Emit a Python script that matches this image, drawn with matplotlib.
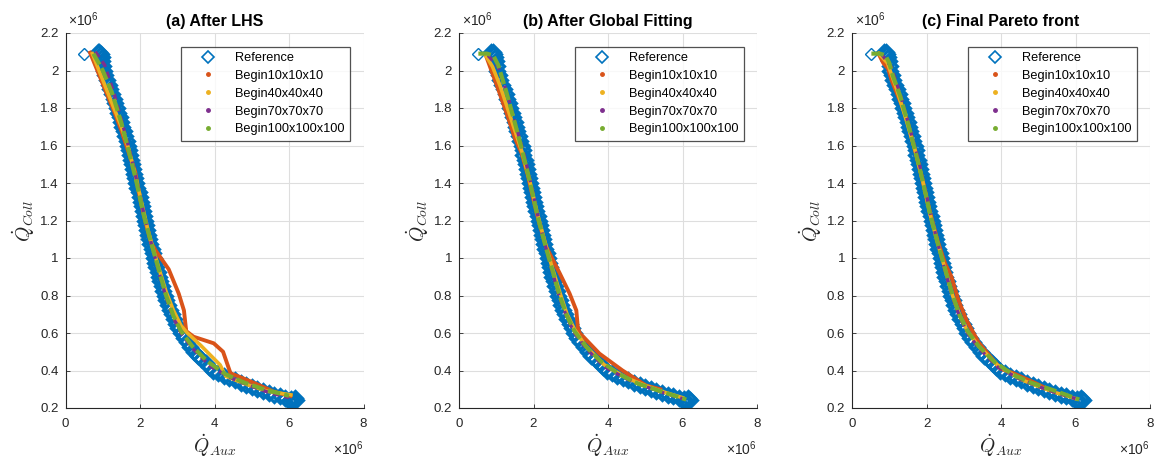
import matplotlib
matplotlib.use("Agg")
import matplotlib.pyplot as plt
from matplotlib.lines import Line2D

plt.rcParams['font.family'] = ['Liberation Sans', 'DejaVu Sans']
plt.rcParams['mathtext.fontset'] = 'custom'
plt.rcParams['mathtext.rm'] = 'Liberation Sans'
plt.rcParams['mathtext.it'] = 'Liberation Sans:italic'

# all values in units of 1e6
ref_x = [0.86, 0.90, 0.94, 0.97, 0.99, 1.01, 1.03, 1.07, 1.11, 1.16,
         1.20, 1.25, 1.29, 1.34, 1.38, 1.42, 1.46, 1.50, 1.53, 1.57,
         1.61, 1.64, 1.68, 1.71, 1.73, 1.76, 1.79, 1.82, 1.85, 1.87,
         1.90, 1.93, 1.96, 1.99, 2.02, 2.05, 2.08, 2.11, 2.14, 2.17,
         2.20, 2.22, 2.25, 2.28, 2.31, 2.35, 2.38, 2.41, 2.44, 2.48,
         2.51, 2.55, 2.58, 2.62, 2.66, 2.70, 2.75, 2.80, 2.85, 2.91,
         2.97, 3.03, 3.10, 3.18, 3.26, 3.35, 3.45, 3.55, 3.65, 3.76,
         3.86, 3.96, 4.10, 4.25, 4.40, 4.55, 4.70, 4.85, 5.00, 5.15,
         5.30, 5.45, 5.60, 5.75, 5.90, 6.05, 6.20, 6.10, 6.15, 6.00]
ref_y = [2.100, 2.100, 2.090, 2.070, 2.050, 2.025, 2.000, 1.975, 1.950, 1.925,
         1.900, 1.875, 1.850, 1.825, 1.800, 1.775, 1.750, 1.725, 1.700, 1.675,
         1.650, 1.625, 1.600, 1.575, 1.550, 1.525, 1.500, 1.475, 1.450, 1.425,
         1.400, 1.375, 1.350, 1.325, 1.300, 1.275, 1.250, 1.225, 1.200, 1.175,
         1.150, 1.125, 1.100, 1.075, 1.050, 1.025, 1.000, 0.975, 0.950, 0.925,
         0.900, 0.875, 0.850, 0.825, 0.800, 0.775, 0.750, 0.725, 0.700, 0.675,
         0.650, 0.625, 0.600, 0.575, 0.550, 0.525, 0.500, 0.480, 0.460, 0.440,
         0.420, 0.400, 0.388, 0.373, 0.360, 0.347, 0.334, 0.322, 0.310, 0.299,
         0.289, 0.279, 0.270, 0.262, 0.254, 0.247, 0.243, 0.236, 0.252, 0.240]
ref_start_x = [0.50]
ref_start_y = [2.09]

# (a) After LHS
a_red_x = [0.66, 1.00, 1.33, 1.50, 1.70, 1.87, 2.00, 2.15, 2.30, 2.42, 2.77, 3.04, 3.18,
           3.24, 3.44, 3.98, 4.23, 4.43, 4.70, 5.15, 5.59, 6.04]
a_red_y = [2.095, 1.93, 1.77, 1.68, 1.56, 1.46, 1.32, 1.19, 1.08, 1.04, 0.94, 0.81, 0.72,
           0.61, 0.58, 0.545, 0.50, 0.385, 0.364, 0.326, 0.287, 0.264]
a_yel_x = [0.72, 1.00, 1.30, 1.50, 1.70, 1.90, 2.05, 2.20, 2.35, 2.50, 2.70, 2.90, 3.10,
           3.27, 3.62, 4.15, 4.30, 4.80, 5.40, 6.05]
a_yel_y = [2.09, 1.95, 1.80, 1.70, 1.58, 1.42, 1.29, 1.16, 1.05, 0.95, 0.82, 0.72, 0.64,
           0.60, 0.536, 0.43, 0.37, 0.33, 0.29, 0.27]
a_pur_x = [0.80, 1.05, 1.30, 1.55, 1.75, 1.95, 2.10, 2.30, 2.50, 2.70, 2.90, 3.10, 3.40,
           3.90, 4.50, 5.00, 5.50, 6.00]
a_pur_y = [2.10, 2.03, 1.88, 1.70, 1.55, 1.38, 1.24, 1.08, 0.93, 0.79, 0.68, 0.60, 0.52,
           0.42, 0.355, 0.315, 0.28, 0.255]
a_grn_x = [0.75, 1.00, 1.25, 1.50, 1.70, 1.90, 2.10, 2.30, 2.50, 2.70, 2.90, 3.10, 3.40,
           3.80, 4.30, 4.80, 5.40, 6.00]
a_grn_y = [2.09, 2.00, 1.88, 1.72, 1.57, 1.41, 1.23, 1.08, 0.94, 0.80, 0.69, 0.61, 0.53,
           0.45, 0.38, 0.335, 0.295, 0.265]

# (b) After Global Fitting
b_red_x = [0.74, 1.00, 1.30, 1.50, 1.68, 1.85, 2.00, 2.15, 2.34, 2.70, 2.97, 3.15, 3.19,
           3.24, 3.77, 4.39, 5.02, 5.40]
b_red_y = [2.07, 1.93, 1.76, 1.64, 1.56, 1.44, 1.31, 1.19, 1.06, 0.92, 0.81, 0.72, 0.63,
           0.60, 0.49, 0.40, 0.32, 0.30]
b_yel_x = [0.72, 0.90, 1.10, 1.30, 1.50, 1.70, 1.90, 2.10, 2.30, 2.50, 2.70, 2.90, 3.10,
           3.40, 3.90, 4.50, 5.00, 5.50, 6.00]
b_yel_y = [2.08, 2.02, 1.92, 1.80, 1.68, 1.56, 1.41, 1.24, 1.09, 0.95, 0.82, 0.70, 0.62,
           0.53, 0.43, 0.36, 0.32, 0.285, 0.255]
b_pur_x = [0.78, 1.05, 1.30, 1.55, 1.75, 1.95, 2.10, 2.30, 2.50, 2.70, 2.90, 3.10, 3.40,
           3.90, 4.50, 5.00, 5.50, 6.00]
b_pur_y = [2.08, 2.02, 1.87, 1.69, 1.55, 1.38, 1.24, 1.08, 0.93, 0.79, 0.68, 0.60, 0.52,
           0.42, 0.355, 0.315, 0.28, 0.25]
b_grn_x = [0.52, 0.75, 0.92, 1.05, 1.25, 1.50, 1.70, 1.90, 2.10, 2.30, 2.50, 2.70, 2.90,
           3.10, 3.40, 3.80, 4.30, 4.80, 5.40, 6.10]
b_grn_y = [2.09, 2.09, 2.08, 2.03, 1.90, 1.72, 1.57, 1.41, 1.23, 1.08, 0.94, 0.80, 0.69,
           0.61, 0.53, 0.45, 0.38, 0.33, 0.29, 0.245]

# (c) Final Pareto front
c_red_x = [0.71, 0.84, 0.97, 1.06, 1.15, 1.35, 1.50, 1.70, 1.90, 2.10, 2.30, 2.50, 2.67,
           2.85, 3.07, 3.40, 3.98, 4.31, 4.90, 5.30, 5.40]
c_red_y = [2.09, 2.04, 2.01, 1.95, 1.905, 1.81, 1.72, 1.57, 1.41, 1.24, 1.09, 0.97, 0.90,
           0.78, 0.67, 0.55, 0.41, 0.387, 0.335, 0.296, 0.29]
c_yel_x = [0.72, 0.95, 1.20, 1.45, 1.70, 1.90, 2.10, 2.30, 2.50, 2.70, 2.90, 3.10, 3.40,
           3.90, 4.50, 5.00, 5.50, 6.00]
c_yel_y = [2.09, 2.04, 1.90, 1.74, 1.57, 1.41, 1.23, 1.08, 0.94, 0.80, 0.69, 0.61, 0.53,
           0.43, 0.355, 0.315, 0.28, 0.25]
c_pur_x = [0.78, 1.05, 1.30, 1.55, 1.75, 1.95, 2.10, 2.30, 2.50, 2.70, 2.90, 3.10, 3.40,
           3.90, 4.50, 5.00, 5.50, 6.00]
c_pur_y = [2.09, 2.02, 1.87, 1.69, 1.55, 1.38, 1.24, 1.08, 0.93, 0.79, 0.68, 0.60, 0.52,
           0.42, 0.355, 0.315, 0.28, 0.25]
c_grn_x = [0.52, 0.75, 0.90, 1.00, 1.10, 1.30, 1.50, 1.70, 1.90, 2.10, 2.30, 2.50, 2.70,
           2.90, 3.10, 3.40, 3.80, 4.30, 4.80, 5.40, 6.10]
c_grn_y = [2.09, 2.09, 2.08, 2.04, 1.97, 1.86, 1.72, 1.57, 1.41, 1.23, 1.08, 0.94, 0.80,
           0.69, 0.61, 0.53, 0.45, 0.38, 0.335, 0.295, 0.245]

titles = ['(a) After LHS', '(b) After Global Fitting', '(c) Final Pareto front']
labels = ['Reference', 'Begin10x10x10', 'Begin40x40x40', 'Begin70x70x70', 'Begin100x100x100']
x_ticks = [0, 2, 4, 6, 8]
y_ticks = [0.2, 0.4, 0.6, 0.8, 1, 1.2, 1.4, 1.6, 1.8, 2, 2.2]

panels = [
    [(a_red_x, a_red_y), (a_yel_x, a_yel_y), (a_pur_x, a_pur_y), (a_grn_x, a_grn_y)],
    [(b_red_x, b_red_y), (b_yel_x, b_yel_y), (b_pur_x, b_pur_y), (b_grn_x, b_grn_y)],
    [(c_red_x, c_red_y), (c_yel_x, c_yel_y), (c_pur_x, c_pur_y), (c_grn_x, c_grn_y)],
]

blue = '#0072BD'
colors = ['#D95319', '#EDB120', '#7E2F8E', '#77AC30']
styles = ['-', '-', (0, (2, 1.5)), (0, (3, 1))]
widths = [2.8, 2.6, 2.4, 3.0]
dark = '#262626'

fig = plt.figure(figsize=(11.57, 4.62), dpi=100)
lefts = [65.5 / 1157, 459 / 1157, 852 / 1157]

for i in range(3):
    ax = fig.add_axes([lefts[i], 1 - 408 / 462, 298 / 1157, 375 / 462])
    ax.plot(ref_x, ref_y, 'D', mfc='none', mec=blue, ms=7, mew=2.3, zorder=2)
    ax.plot(ref_start_x, ref_start_y, 'D', mfc='none', mec=blue, ms=6.5, mew=1.0, zorder=2)
    for (sx, sy), c, ls, lw in zip(panels[i], colors, styles, widths):
        ax.plot(sx, sy, color=c, ls=ls, lw=lw, zorder=3)

    ax.set_xlim(0, 8)
    ax.set_ylim(0.2, 2.2)
    ax.set_xticks(x_ticks)
    ax.set_xticklabels([f'{v:g}' for v in x_ticks])
    ax.set_yticks(y_ticks)
    ax.set_yticklabels([f'{v:g}' for v in y_ticks])
    ax.grid(True, color='#dedede', lw=0.8)
    ax.set_axisbelow(True)
    for s in ['top', 'right']:
        ax.spines[s].set_visible(False)
    for s in ['left', 'bottom']:
        ax.spines[s].set_color(dark)
        ax.spines[s].set_linewidth(0.8)
    ax.tick_params(direction='in', length=3, width=0.6, colors=dark, labelsize=9.5)
    ax.tick_params(axis='x', pad=7)
    ax.tick_params(axis='y', pad=5)

    ax.set_title(titles[i], fontsize=11.5, fontweight='bold', pad=5, color='black')
    ax.set_xlabel(r'$\dot{Q}_{Aux}$', fontsize=14, color=dark, labelpad=2,
                  math_fontfamily='cm')
    ax.set_ylabel(r'$\dot{Q}_{Coll}$', fontsize=14, color=dark, labelpad=2,
                  math_fontfamily='cm')
    ax.text(0.01, 1.01, r'$\times\mathrm{10}^{6}$', transform=ax.transAxes, fontsize=10,
            color=dark, ha='left', va='bottom')
    ax.text(1.0, -0.085, r'$\times\mathrm{10}^{6}$', transform=ax.transAxes, fontsize=10,
            color=dark, ha='right', va='top')

    handles = [Line2D([], [], ls='none', marker='D', mfc='none', mec=blue, ms=6, mew=1.2)]
    handles += [Line2D([], [], ls='none', marker='.', color=c, ms=5) for c in colors]
    leg = ax.legend(handles, labels, loc='upper right', bbox_to_anchor=(0.955, 0.963),
                    fontsize=9.2, frameon=True, fancybox=False, borderpad=0.4,
                    handlelength=3.4, handletextpad=0.45, labelspacing=0.46,
                    borderaxespad=0)
    leg.get_frame().set_edgecolor(dark)
    leg.get_frame().set_linewidth(0.9)

fig.savefig('out.png', dpi=100)
